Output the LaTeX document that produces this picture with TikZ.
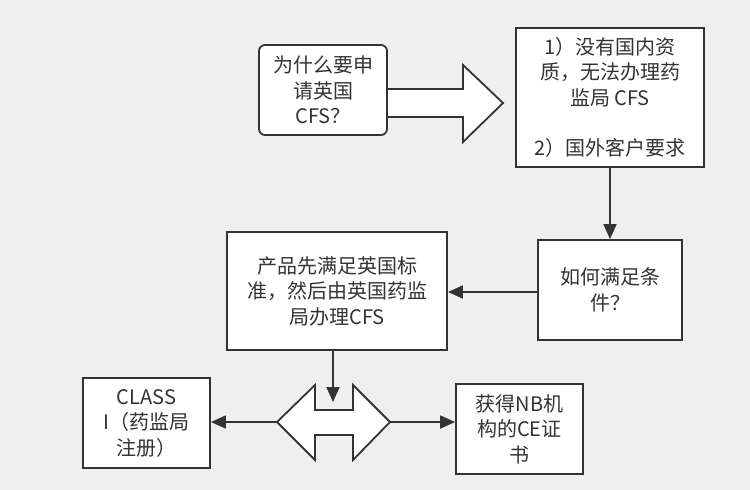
\documentclass[tikz,border=0pt]{standalone}
\usepackage{fontspec}
\setmainfont{Noto Sans CJK SC}
\usetikzlibrary{arrows.meta}
\definecolor{bg}{HTML}{EFEFEF}
\definecolor{ink}{HTML}{333333}
\begin{document}
\begin{tikzpicture}[x=1pt,y=-1pt,
  box/.style={draw=ink,fill=white,line width=1.8pt,inner sep=0pt,align=center,
    font=\fontsize{20pt}{25.5pt}\selectfont,text=ink},
  conn/.style={draw=ink,line width=1.8pt,-{Triangle[length=15pt,width=13pt]}},
  bigarrow/.style={draw=ink,fill=white,line width=1.8pt,line join=miter}]
\useasboundingbox[fill=bg] (0,0) rectangle (750,490);
% big right arrow
\draw[bigarrow] (387,89) -- (463,89) -- (463,65) -- (503,103) -- (463,142) -- (463,117) -- (387,117);
\node[box,rounded corners=6pt,minimum width=128pt,minimum height=90pt] (a) at (323,90) {为什么要申\\请英国\\CFS？};
\node[box,minimum width=188pt,minimum height=139pt] (b) at (610,97.5) {1）没有国内资\\质，无法办理药\\监局 CFS\\[25pt]2）国外客户要求};
\node[box,minimum width=144pt,minimum height=100pt] (c) at (610,290) {如何满足条\\件？};
\node[box,minimum width=220pt,minimum height=118pt] (d) at (337,291) {产品先满足英国标\\准，然后由英国药监\\局办理CFS};
\node[box,minimum width=127pt,minimum height=90pt] (e) at (146.5,423) {CLASS\\I（药监局\\注册）};
\node[box,minimum width=127pt,minimum height=90pt] (f) at (519.5,429) {获得NB机\\构的CE证\\书};
% double arrow
\draw[bigarrow] (277,422) coordinate (dl) -- (315,385) -- (315,410) -- (353,410) -- (353,385) -- (390,422) coordinate (dr) -- (353,460) -- (353,435) -- (315,435) -- (315,460) -- cycle;
\coordinate (dtop) at (333,402);
% connectors
\draw[conn] (b.south) -- (c.north);
\draw[conn] (c.west |- 0,292) -- (d.east |- 0,292);
\draw[conn] (d.south -| 333,0) -- (dtop);
\draw[conn] (dl) -- (e.east |- dl);
\draw[conn] (dr) -- (f.west |- dr);
\end{tikzpicture}
\end{document}
